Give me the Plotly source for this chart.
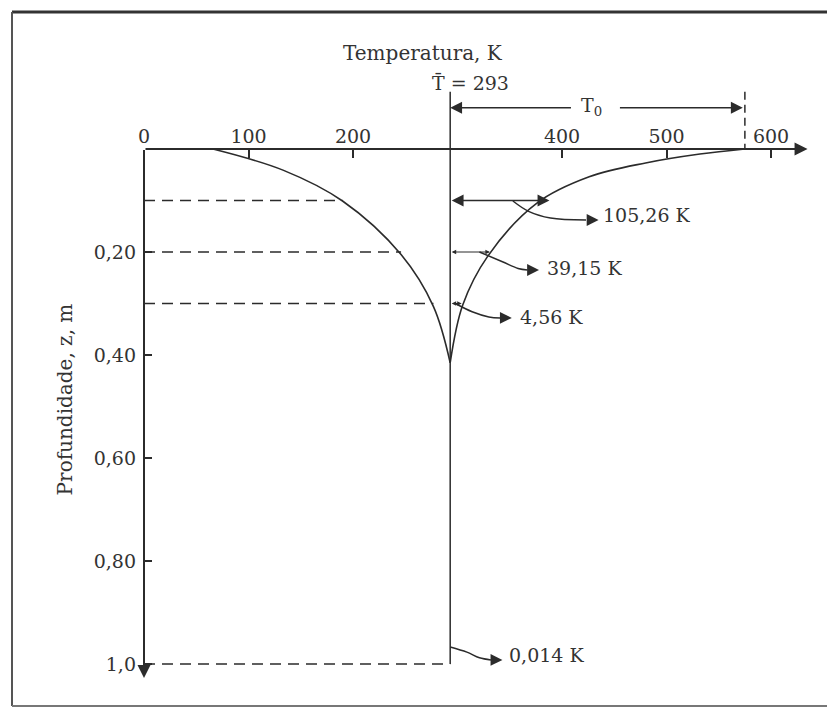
import plotly.graph_objects as go

# ---------------- data ----------------
temp_tick_vals = [0, 100, 200, 400, 500, 600]
temp_tick_text = ["0", "100", "200", "400", "500", "600"]
depth_tick_vals = [0.2, 0.4, 0.6, 0.8, 1.0]
depth_tick_text = ["0,20", "0,40", "0,60", "0,80", "1,0"]

T_mean = 293          # mean temperature, K
T_surface = 575       # T_mean + T0 (surface maximum)

left_z = [0, 0.041, 0.101, 0.205, 0.306, 0.415]
left_T = [66, 133, 190, 246, 277, 293]
right_z = [0, 0.0097, 0.027, 0.054, 0.105, 0.208, 0.303, 0.415]
right_T = [575, 532, 480, 426, 376, 329, 305, 293]

marked_z = [0.1, 0.2, 0.3]
marked_left_T = [190, 246, 277]
marked_right_T = [388, 331, 304]
deep_z = 1.0

amp_labels = ["105,26 K", "39,15 K", "4,56 K", "0,014 K"]

# leader curves (data units): T list, z list, arrow tip, label anchor
leaders = [
    dict(T=[353, 368, 389, 423], z=[0.101, 0.121, 0.134, 0.138], tip=(435, 0.138), lab=(437, 0.129)),
    dict(T=[321, 343, 358, 367], z=[0.2, 0.219, 0.232, 0.235], tip=(378, 0.235), lab=(384, 0.231)),
    dict(T=[298, 314, 330, 341], z=[0.3, 0.316, 0.326, 0.328], tip=(352, 0.328), lab=(358, 0.326)),
    dict(T=[293, 309, 321, 332], z=[0.967, 0.977, 0.988, 0.992], tip=(343, 0.992), lab=(347, 0.983)),
]

# ---------------- scale / layout constants ----------------
W, H = 827, 709
X0_PX, KX = 144, 1.045   # pixel of T = 0, pixels per K
Y0_PX, KY = 149, 515     # pixel of z = 0, pixels per m
xmin, xmax = -X0_PX / KX, (W - X0_PX) / KX
ztop, zbot = -Y0_PX / KY, (H - Y0_PX) / KY
xfrac0 = (0 - xmin) / (xmax - xmin)
yfrac0 = (zbot - 0) / (zbot - ztop)

INK = "#2b2b2b"
TXT = "#333333"
FONT = "DejaVu Serif"

fig = go.Figure()

def line(T, z, width=1.6, dash=None, shape="linear", smoothing=1.0):
    fig.add_trace(go.Scatter(x=T, y=z, mode="lines", hoverinfo="skip",
                             line=dict(color=INK, width=width, dash=dash, shape=shape, smoothing=smoothing)))

# temperature profiles
line(left_T, left_z, 1.6, shape="spline", smoothing=1.0)
line(right_T, right_z, 1.6, shape="spline", smoothing=1.0)

# dashed depth guides
for zz, tt in zip(marked_z, marked_left_T):
    line([0, tt], [zz, zz], 1.6, dash="11px,7px")
line([0, T_mean], [deep_z, deep_z], 1.6, dash="11px,7px")

# mean temperature vertical line
line([T_mean, T_mean], [-0.111, deep_z], 1.5)
# surface amplitude dashed marker
line([T_surface, T_surface], [-0.111, 0], 1.5, dash="8px,5px")

# leader curves
for L in leaders:
    line(L["T"], L["z"], 1.5, shape="spline")

annotations = []

def arrow(x, y, ax, ay, size=1.6, width=1.5, side="end"):
    annotations.append(dict(x=x, y=y, ax=ax, ay=ay, xref="x", yref="y", axref="x", ayref="y",
                            text="", showarrow=True, arrowhead=2, arrowsize=size, arrowwidth=width,
                            arrowcolor=INK, arrowside=side, startarrowhead=2, startarrowsize=size))

# axes with arrowheads
arrow(635, 0, 0, 0, size=1.3, width=2)
arrow(0, 1.027, 0, 0, size=1.3, width=2)

# amplitude double arrows
arrow(marked_right_T[0], marked_z[0], T_mean, marked_z[0], size=1.7, width=1.4, side="end+start")
arrow(marked_right_T[1], marked_z[1], T_mean, marked_z[1], size=0.9, width=1.0, side="end+start")
arrow(marked_right_T[2], marked_z[2], T_mean, marked_z[2], size=0.9, width=1.0, side="end+start")

# leader arrowheads + labels
for L, lab in zip(leaders, amp_labels):
    tx, tz = L["tip"]
    arrow(tx, tz, L["T"][-1], L["z"][-1], size=1.7, width=1.4)
    annotations.append(dict(x=L["lab"][0], y=L["lab"][1], xref="x", yref="y", text=lab,
                            showarrow=False, xanchor="left", yanchor="middle",
                            font=dict(family=FONT, size=19, color=TXT)))

# T0 span arrows
arrow(T_mean, -0.08, 410, -0.08, size=1.7, width=1.4)
arrow(573, -0.08, 454, -0.08, size=1.7, width=1.4)
annotations.append(dict(x=428, y=-0.082, xref="x", yref="y", text="T<sub>0</sub>", showarrow=False,
                        xanchor="center", yanchor="middle", font=dict(family=FONT, size=19, color=TXT)))

# titles
annotations.append(dict(x=267, y=-0.186, xref="x", yref="y", text="Temperatura, K", showarrow=False,
                        xanchor="center", yanchor="middle", font=dict(family=FONT, size=20, color=TXT)))
annotations.append(dict(x=274, y=-0.128, xref="x", yref="y", text="T\u0304 = 293", showarrow=False,
                        xanchor="left", yanchor="middle", font=dict(family=FONT, size=19, color=TXT)))
annotations.append(dict(x=-76, y=0.487, xref="x", yref="y", text="Profundidade, z, m", showarrow=False,
                        textangle=-90, xanchor="center", yanchor="middle",
                        font=dict(family=FONT, size=20, color=TXT)))

# frame
shapes = [
    dict(type="line", xref="paper", yref="paper", x0=12 / W, x1=1, y0=1 - 12 / H, y1=1 - 12 / H,
         line=dict(color="#333333", width=3)),
    dict(type="line", xref="paper", yref="paper", x0=12 / W, x1=12 / W, y0=1 - 12 / H, y1=1 - 706 / H,
         line=dict(color="#555555", width=2)),
    dict(type="line", xref="paper", yref="paper", x0=12 / W, x1=1, y0=1 - 706 / H, y1=1 - 706 / H,
         line=dict(color="#777777", width=2)),
]

fig.update_layout(
    width=W, height=H, margin=dict(l=0, r=0, t=0, b=0, pad=0),
    paper_bgcolor="white", plot_bgcolor="white", showlegend=False,
    annotations=annotations, shapes=shapes,
    xaxis=dict(range=[xmin, xmax], anchor="free", position=yfrac0, side="top",
               tickmode="array", tickvals=temp_tick_vals, ticktext=temp_tick_text,
               ticks="inside", ticklen=8, tickwidth=1.5, tickcolor=INK,
               showline=False, showgrid=False, zeroline=False, ticklabelstandoff=2,
               tickfont=dict(family=FONT, size=19, color=TXT), fixedrange=True),
    yaxis=dict(range=[zbot, ztop], anchor="free", position=xfrac0, side="left",
               tickmode="array", tickvals=depth_tick_vals, ticktext=depth_tick_text,
               ticks="inside", ticklen=7, tickwidth=1.5, tickcolor=INK,
               showline=False, showgrid=False, zeroline=False, ticklabelstandoff=8,
               tickfont=dict(family=FONT, size=19, color=TXT), fixedrange=True),
)

fig.write_html("out.html")
